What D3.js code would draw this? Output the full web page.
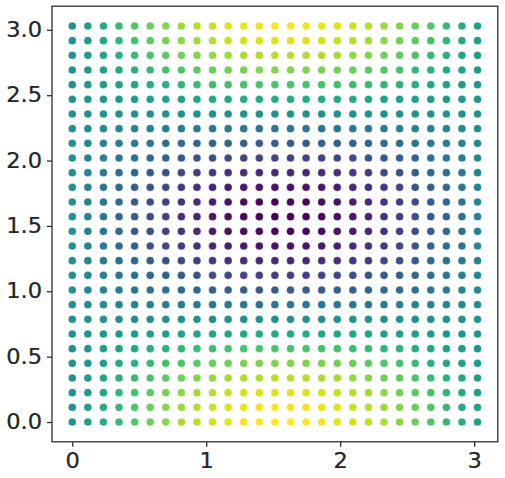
<!DOCTYPE html>
<html>
<head>
<meta charset="utf-8">
<script src="https://cdn.jsdelivr.net/npm/d3@7"></script>
<style>
  html, body { margin: 0; padding: 0; background: #ffffff; }
  svg { display: block; }
</style>
</head>
<body>
<svg id="chart" width="505" height="478"></svg>
<script>
// Grid coordinates (x columns, y rows)
const xValues = [0, 0.1164, 0.2327, 0.3491, 0.4654, 0.5818, 0.6981, 0.8145, 0.9308, 1.0472,
  1.1636, 1.2799, 1.3963, 1.5126, 1.6290, 1.7453, 1.8617, 1.9780, 2.0944, 2.2108,
  2.3271, 2.4435, 2.5598, 2.6762, 2.7925, 2.9089, 3.0252];
const yValues = [0, 0.1122, 0.2244, 0.3366, 0.4488, 0.5610, 0.6732, 0.7854, 0.8976, 1.0098,
  1.1220, 1.2342, 1.3464, 1.4586, 1.5708, 1.6830, 1.7952, 1.9074, 2.0196, 2.1318,
  2.2440, 2.3562, 2.4684, 2.5806, 2.6928, 2.8050, 2.9172, 3.0294];
// Colour values, one row per y (bottom to top), one entry per x
const zValues = [
  [0,.12,.23,.34,.45,.55,.64,.73,.80,.87,.92,.96,.98,1.00,1.00,.98,.96,.92,.87,.80,.73,.64,.55,.45,.34,.23,.12],
  [0,.11,.22,.33,.44,.54,.63,.71,.78,.84,.90,.93,.96,.97,.97,.96,.93,.90,.84,.78,.71,.63,.54,.44,.33,.22,.11],
  [0,.10,.21,.31,.40,.50,.58,.66,.72,.78,.83,.86,.89,.90,.90,.89,.86,.83,.78,.72,.66,.58,.50,.40,.31,.21,.10],
  [0,.09,.18,.27,.35,.43,.50,.57,.63,.68,.72,.75,.77,.78,.78,.77,.75,.72,.68,.63,.57,.50,.43,.35,.27,.18,.09],
  [0,.07,.14,.21,.28,.34,.40,.45,.50,.54,.57,.60,.61,.62,.62,.61,.60,.57,.54,.50,.45,.40,.34,.28,.21,.14,.07],
  [0,.05,.10,.15,.19,.24,.28,.32,.35,.38,.40,.42,.43,.43,.43,.43,.42,.40,.38,.35,.32,.28,.24,.19,.15,.10,.05],
  [0,.03,.05,.08,.10,.12,.14,.16,.18,.19,.20,.21,.22,.22,.22,.22,.21,.20,.19,.18,.16,.14,.12,.10,.08,.05,.03],
  [0,0,0,0,0,0,0,0,0,0,0,0,0,0,0,0,0,0,0,0,0,0,0,0,0,0,0],
  [0,-.03,-.05,-.08,-.10,-.12,-.14,-.16,-.18,-.19,-.20,-.21,-.22,-.22,-.22,-.22,-.21,-.20,-.19,-.18,-.16,-.14,-.12,-.10,-.08,-.05,-.03],
  [0,-.05,-.10,-.15,-.19,-.24,-.28,-.32,-.35,-.38,-.40,-.42,-.43,-.43,-.43,-.43,-.42,-.40,-.38,-.35,-.32,-.28,-.24,-.19,-.15,-.10,-.05],
  [0,-.07,-.14,-.21,-.28,-.34,-.40,-.45,-.50,-.54,-.57,-.60,-.61,-.62,-.62,-.61,-.60,-.57,-.54,-.50,-.45,-.40,-.34,-.28,-.21,-.14,-.07],
  [0,-.09,-.18,-.27,-.35,-.43,-.50,-.57,-.63,-.68,-.72,-.75,-.77,-.78,-.78,-.77,-.75,-.72,-.68,-.63,-.57,-.50,-.43,-.35,-.27,-.18,-.09],
  [0,-.10,-.21,-.31,-.40,-.50,-.58,-.66,-.72,-.78,-.83,-.86,-.89,-.90,-.90,-.89,-.86,-.83,-.78,-.72,-.66,-.58,-.50,-.40,-.31,-.21,-.10],
  [0,-.11,-.22,-.33,-.44,-.54,-.63,-.71,-.78,-.84,-.90,-.93,-.96,-.97,-.97,-.96,-.93,-.90,-.84,-.78,-.71,-.63,-.54,-.44,-.33,-.22,-.11],
  [0,-.12,-.23,-.34,-.45,-.55,-.64,-.73,-.80,-.87,-.92,-.96,-.98,-1.00,-1.00,-.98,-.96,-.92,-.87,-.80,-.73,-.64,-.55,-.45,-.34,-.23,-.12],
  [0,-.11,-.22,-.33,-.44,-.54,-.63,-.71,-.78,-.84,-.90,-.93,-.96,-.97,-.97,-.96,-.93,-.90,-.84,-.78,-.71,-.63,-.54,-.44,-.33,-.22,-.11],
  [0,-.10,-.21,-.31,-.40,-.50,-.58,-.66,-.72,-.78,-.83,-.86,-.89,-.90,-.90,-.89,-.86,-.83,-.78,-.72,-.66,-.58,-.50,-.40,-.31,-.21,-.10],
  [0,-.09,-.18,-.27,-.35,-.43,-.50,-.57,-.63,-.68,-.72,-.75,-.77,-.78,-.78,-.77,-.75,-.72,-.68,-.63,-.57,-.50,-.43,-.35,-.27,-.18,-.09],
  [0,-.07,-.14,-.21,-.28,-.34,-.40,-.45,-.50,-.54,-.57,-.60,-.61,-.62,-.62,-.61,-.60,-.57,-.54,-.50,-.45,-.40,-.34,-.28,-.21,-.14,-.07],
  [0,-.05,-.10,-.15,-.19,-.24,-.28,-.32,-.35,-.38,-.40,-.42,-.43,-.43,-.43,-.43,-.42,-.40,-.38,-.35,-.32,-.28,-.24,-.19,-.15,-.10,-.05],
  [0,-.03,-.05,-.08,-.10,-.12,-.14,-.16,-.18,-.19,-.20,-.21,-.22,-.22,-.22,-.22,-.21,-.20,-.19,-.18,-.16,-.14,-.12,-.10,-.08,-.05,-.03],
  [0,0,0,0,0,0,0,0,0,0,0,0,0,0,0,0,0,0,0,0,0,0,0,0,0,0,0],
  [0,.03,.05,.08,.10,.12,.14,.16,.18,.19,.20,.21,.22,.22,.22,.22,.21,.20,.19,.18,.16,.14,.12,.10,.08,.05,.03],
  [0,.05,.10,.15,.19,.24,.28,.32,.35,.38,.40,.42,.43,.43,.43,.43,.42,.40,.38,.35,.32,.28,.24,.19,.15,.10,.05],
  [0,.07,.14,.21,.28,.34,.40,.45,.50,.54,.57,.60,.61,.62,.62,.61,.60,.57,.54,.50,.45,.40,.34,.28,.21,.14,.07],
  [0,.09,.18,.27,.35,.43,.50,.57,.63,.68,.72,.75,.77,.78,.78,.77,.75,.72,.68,.63,.57,.50,.43,.35,.27,.18,.09],
  [0,.10,.21,.31,.40,.50,.58,.66,.72,.78,.83,.86,.89,.90,.90,.89,.86,.83,.78,.72,.66,.58,.50,.40,.31,.21,.10],
  [0,.11,.22,.33,.44,.54,.63,.71,.78,.84,.90,.93,.96,.97,.97,.96,.93,.90,.84,.78,.71,.63,.54,.44,.33,.22,.11]
];
const xTicks = [0, 1, 2, 3];
const xTickLabels = ["0", "1", "2", "3"];
const yTicks = [0, 0.5, 1, 1.5, 2, 2.5, 3];
const yTickLabels = ["0.0", "0.5", "1.0", "1.5", "2.0", "2.5", "3.0"];

(function () {
  // Build points table from the arrays
  const points = [];
  yValues.forEach((yv, j) => {
    xValues.forEach((xv, i) => {
      points.push({ x: xv, y: yv, z: zValues[j][i] });
    });
  });

  const plotLeft = 52, plotRight = 497.8, plotTop = 6.2, plotBottom = 441.8;
  const svg = d3.select("#chart");

  const xPad = (d3.max(xValues) - d3.min(xValues)) * 0.05;
  const yPad = (d3.max(yValues) - d3.min(yValues)) * 0.05;
  const x = d3.scaleLinear()
    .domain([d3.min(xValues) - xPad, d3.max(xValues) + xPad])
    .range([plotLeft, plotRight]);
  const y = d3.scaleLinear()
    .domain([d3.min(yValues) - yPad, d3.max(yValues) + yPad])
    .range([plotBottom, plotTop]);
  const color = d3.scaleSequential(d3.interpolateViridis)
    .domain(d3.extent(points, d => d.z));

  // Points
  svg.append("g")
    .selectAll("circle")
    .data(points)
    .join("circle")
    .attr("cx", d => x(d.x))
    .attr("cy", d => y(d.y))
    .attr("r", 3.85)
    .attr("fill", d => color(d.z))
    .attr("stroke", "#ffffff")
    .attr("stroke-opacity", 0.45)
    .attr("stroke-width", 0.4);

  const axisColor = "#262626";
  const fontFamily = "'DejaVu Sans', sans-serif";
  const stretch = 1.1;

  // Frame
  svg.append("rect")
    .attr("x", plotLeft).attr("y", plotTop)
    .attr("width", plotRight - plotLeft).attr("height", plotBottom - plotTop)
    .attr("fill", "none")
    .attr("stroke", axisColor)
    .attr("stroke-width", 1.25);

  // Axes
  const xAxis = svg.append("g")
    .attr("transform", `translate(0,${plotBottom})`)
    .call(d3.axisBottom(x).tickValues(xTicks)
      .tickFormat((d, i) => xTickLabels[i])
      .tickSize(5).tickPadding(6.5).tickSizeOuter(0));
  const yAxis = svg.append("g")
    .attr("transform", `translate(${plotLeft},0)`)
    .call(d3.axisLeft(y).tickValues(yTicks)
      .tickFormat((d, i) => yTickLabels[i])
      .tickSize(5).tickPadding(5).tickSizeOuter(0));

  [xAxis, yAxis].forEach(g => {
    g.select(".domain").remove();
    g.selectAll(".tick line").attr("stroke", axisColor).attr("stroke-width", 1.25);
    g.selectAll(".tick text")
      .attr("fill", axisColor)
      .attr("stroke", axisColor)
      .attr("stroke-width", 0.25)
      .style("font-family", fontFamily)
      .style("font-size", "20.5px");
  });
  // slight horizontal widening of the tick labels to match the reference glyph width
  yAxis.selectAll(".tick text").each(function () {
    const t = d3.select(this);
    const tx = +t.attr("x");
    t.attr("x", 0).attr("transform", `translate(${tx},0) scale(${stretch},1)`);
  });
  xAxis.selectAll(".tick text").attr("transform", `scale(${stretch},1)`);
})();
</script>
</body>
</html>
